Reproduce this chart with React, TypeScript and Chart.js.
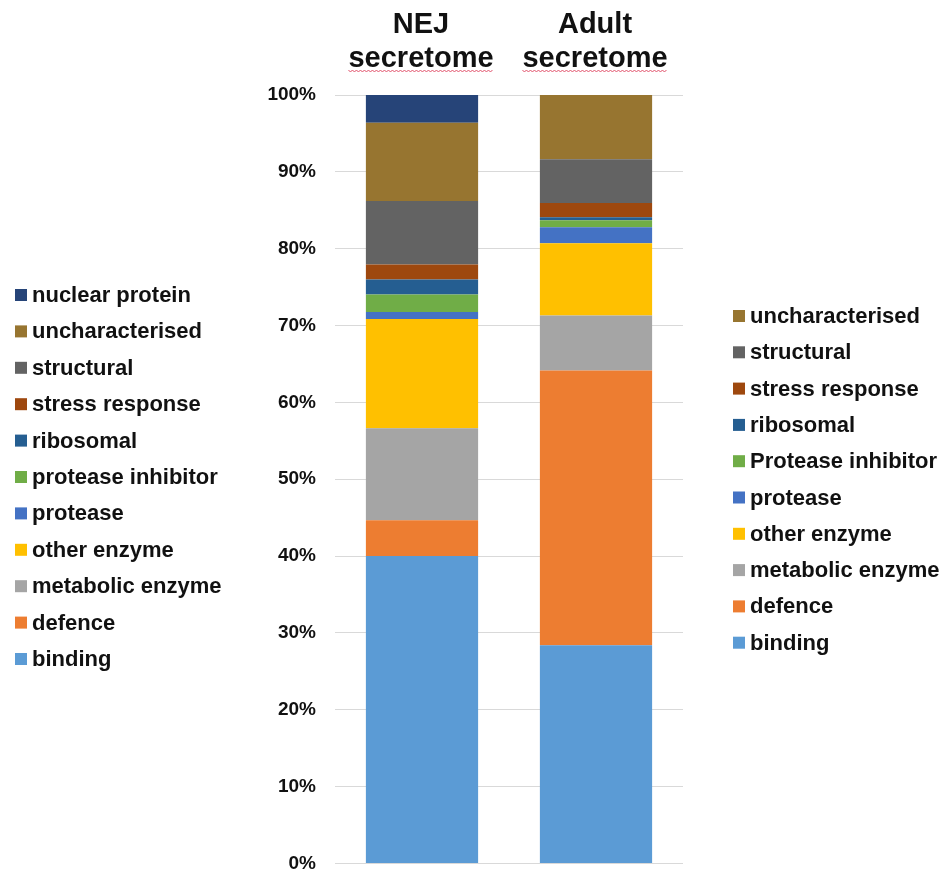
import React, { useEffect, useRef } from 'react';
import { Chart, registerables } from 'chart.js';

Chart.register(...registerables);

const categories = ['NEJ secretome', 'Adult secretome'];
const titleLines = [
  ['NEJ', 'secretome'],
  ['Adult', 'secretome'],
];
const seriesNames = [
  'binding',
  'defence',
  'metabolic enzyme',
  'other enzyme',
  'protease',
  'protease inhibitor',
  'ribosomal',
  'stress response',
  'structural',
  'uncharacterised',
  'nuclear protein',
];
const nejValues = [40.0, 4.65, 12.0, 14.2, 0.9, 2.3, 1.95, 1.95, 8.25, 10.2, 3.6];
const adultValues = [28.4, 35.75, 7.15, 9.4, 2.1, 0.9, 0.4, 1.85, 5.7, 8.35, 0];
const seriesColors = [
  '#5B9BD5',
  '#ED7D31',
  '#A5A5A5',
  '#FFC000',
  '#4472C4',
  '#70AD47',
  '#255E91',
  '#9E480E',
  '#636363',
  '#977530',
  '#264478',
];
const leftLegendLabels = [
  'binding',
  'defence',
  'metabolic enzyme',
  'other enzyme',
  'protease',
  'protease inhibitor',
  'ribosomal',
  'stress response',
  'structural',
  'uncharacterised',
  'nuclear protein',
];
const rightLegendLabels = [
  'binding',
  'defence',
  'metabolic enzyme',
  'other enzyme',
  'protease',
  'Protease inhibitor',
  'ribosomal',
  'stress response',
  'structural',
  'uncharacterised',
];

const FONT = '"Liberation Sans", Arial, Helvetica, sans-serif';

const decorPlugin = {
  id: 'decor',
  afterDraw(chart: any) {
    const ctx = chart.ctx as CanvasRenderingContext2D;
    ctx.save();
    // legends
    ctx.font = `bold 22px ${FONT}`;
    ctx.textBaseline = 'middle';
    ctx.textAlign = 'left';
    const n1 = leftLegendLabels.length;
    for (let k = 0; k < n1; k++) {
      const i = n1 - 1 - k;
      const y = 295 + k * 36.4;
      ctx.fillStyle = seriesColors[i];
      ctx.fillRect(15, y - 6, 12, 12);
      ctx.fillStyle = '#111';
      ctx.fillText(leftLegendLabels[i], 32, y + 1);
    }
    const n2 = rightLegendLabels.length;
    for (let k = 0; k < n2; k++) {
      const i = n2 - 1 - k;
      const y = 316 + k * 36.3;
      ctx.fillStyle = seriesColors[i];
      ctx.fillRect(733, y - 6, 12, 12);
      ctx.fillStyle = '#111';
      ctx.fillText(rightLegendLabels[i], 750, y + 1);
    }
    // titles
    ctx.font = `bold 29px ${FONT}`;
    ctx.textAlign = 'center';
    ctx.textBaseline = 'alphabetic';
    const xs = chart.scales.x;
    titleLines.forEach((lines, i) => {
      const cx = xs.getPixelForValue(i) - 1;
      ctx.fillStyle = '#111';
      ctx.fillText(lines[0], cx, 33);
      ctx.fillText(lines[1], cx, 67);
      const w = ctx.measureText(lines[1]).width;
      // spell-check squiggle
      ctx.strokeStyle = '#e0506a';
      ctx.lineWidth = 1;
      ctx.beginPath();
      let up = true;
      for (let x = cx - w / 2; x <= cx + w / 2; x += 2) {
        const y = up ? 70 : 72;
        if (x === cx - w / 2) ctx.moveTo(x, y);
        else ctx.lineTo(x, y);
        up = !up;
      }
      ctx.stroke();
    });
    ctx.restore();
  },
};

export default function App() {
  const ref = useRef<HTMLCanvasElement | null>(null);
  useEffect(() => {
    document.body.style.margin = '0';
    const canvas = ref.current!;
    const chart = new Chart(canvas, {
      type: 'bar',
      data: {
        labels: categories,
        datasets: seriesNames.map((name, i) => ({
          label: name,
          data: [nejValues[i], adultValues[i]],
          backgroundColor: seriesColors[i],
          borderWidth: 0,
          barPercentage: 0.645,
          categoryPercentage: 1,
        })),
      },
      options: {
        responsive: false,
        animation: false,
        devicePixelRatio: 1,
        layout: { padding: { left: 0, right: 266, top: 95, bottom: 9 } },
        plugins: {
          legend: { display: false },
          tooltip: { enabled: false },
          title: { display: false },
        },
        scales: {
          x: { stacked: true, display: false },
          y: {
            stacked: true,
            min: 0,
            max: 100,
            border: { display: false },
            grid: {
              color: '#d9d9d9',
              lineWidth: 1,
              drawTicks: true,
              tickLength: 19,
              tickColor: 'rgba(0,0,0,0)',
            },
            ticks: {
              stepSize: 10,
              padding: 0,
              color: '#111',
              font: { family: FONT, size: 19, weight: 'bold', lineHeight: 1 },
              callback: (v: any) => `${v}%`,
            },
            afterFit: (scale: any) => {
              scale.width = 335;
            },
          },
        },
      },
      plugins: [decorPlugin],
    });
    return () => chart.destroy();
  }, []);
  return (
    <div style={{ width: 949, height: 873, background: '#fff' }}>
      <canvas ref={ref} width={949} height={873} />
    </div>
  );
}
